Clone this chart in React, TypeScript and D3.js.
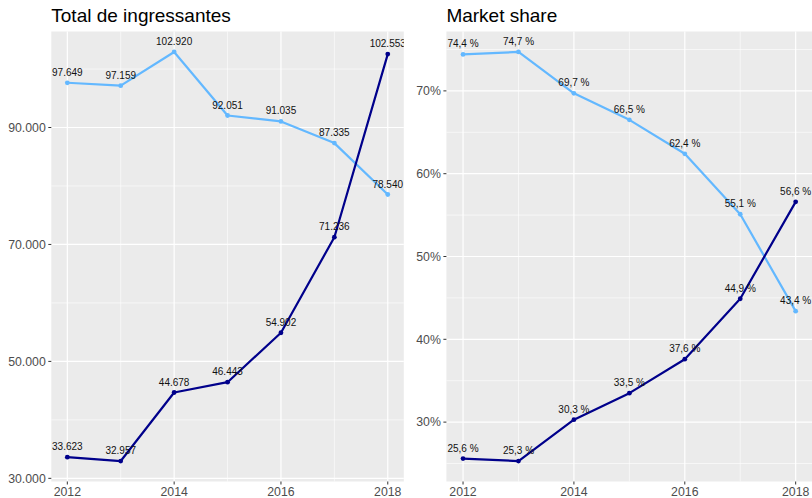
import React from "react";
import * as d3 from "d3";

const years = [2012, 2013, 2014, 2015, 2016, 2017, 2018];
const totalLight = [97649, 97159, 102920, 92051, 91035, 87335, 78540];
const totalDark = [33623, 32957, 44678, 46443, 54902, 71236, 102553];
const shareLight = [74.4, 74.7, 69.7, 66.5, 62.4, 55.1, 43.4];
const shareDark = [25.6, 25.3, 30.3, 33.5, 37.6, 44.9, 56.6];
const xTicks = [2012, 2014, 2016, 2018];
const xMinor = [2013, 2015, 2017];
const leftTicks = [30000, 50000, 70000, 90000];
const leftMinor = [40000, 60000, 80000, 100000];
const rightTicks = [30, 40, 50, 60, 70];
const rightMinor = [25, 35, 45, 55, 65, 75];

const LIGHT = "#63B8FF";
const DARK = "#00008B";
const FONT = "'Liberation Sans', Arial, Helvetica, sans-serif";

const fmtInt = (v: number) => d3.format(",d")(v).replace(/,/g, ".");
const fmtPct = (v: number) => v.toFixed(1).replace(".", ",") + " %";

function expand(vals: number[]): [number, number] {
  const [a, b] = d3.extent(vals) as [number, number];
  const p = (b - a) * 0.05;
  return [a - p, b + p];
}

type PanelProps = {
  id: string;
  title: string;
  x0: number;
  x1: number;
  top: number;
  bottom: number;
  light: number[];
  dark: number[];
  ticks: number[];
  minor: number[];
  tickFmt: (v: number) => string;
  labelFmt: (v: number) => string;
};

function Panel(p: PanelProps) {
  const xs = d3.scaleLinear().domain(expand(years)).range([p.x0, p.x1]);
  const ys = d3.scaleLinear().domain(expand([...p.light, ...p.dark])).range([p.bottom, p.top]);
  const line = d3
    .line<number>()
    .x((_, i) => xs(years[i]))
    .y((d) => ys(d));
  const series = [
    { vals: p.light, color: LIGHT },
    { vals: p.dark, color: DARK },
  ];
  return (
    <g>
      <defs>
        <clipPath id={p.id}>
          <rect x={p.x0} y={p.top} width={p.x1 - p.x0} height={p.bottom - p.top} />
        </clipPath>
      </defs>
      <text x={p.x0} y={21.5} fontSize={19} fill="#000" fontFamily={FONT}>
        {p.title}
      </text>
      <rect x={p.x0} y={p.top} width={p.x1 - p.x0} height={p.bottom - p.top} fill="#EBEBEB" />
      {p.minor.map((t) => (
        <line key={"hm" + t} x1={p.x0} x2={p.x1} y1={ys(t)} y2={ys(t)} stroke="#fff" strokeWidth={0.6} />
      ))}
      {xMinor.map((t) => (
        <line key={"vm" + t} x1={xs(t)} x2={xs(t)} y1={p.top} y2={p.bottom} stroke="#fff" strokeWidth={0.6} />
      ))}
      {p.ticks.map((t) => (
        <line key={"h" + t} x1={p.x0} x2={p.x1} y1={ys(t)} y2={ys(t)} stroke="#fff" strokeWidth={1.2} />
      ))}
      {xTicks.map((t) => (
        <line key={"v" + t} x1={xs(t)} x2={xs(t)} y1={p.top} y2={p.bottom} stroke="#fff" strokeWidth={1.2} />
      ))}
      <g clipPath={`url(#${p.id})`}>
        {series.map((s, si) => (
          <g key={si}>
            <path d={line(s.vals) || ""} fill="none" stroke={s.color} strokeWidth={2.2} strokeLinejoin="round" />
            {s.vals.map((v, i) => (
              <circle key={i} cx={xs(years[i])} cy={ys(v)} r={2.4} fill={s.color} />
            ))}
          </g>
        ))}
        {series.map((s, si) =>
          s.vals.map((v, i) => (
            <text
              key={si + "-" + i}
              x={xs(years[i])}
              y={ys(v) - 7}
              textAnchor="middle"
              fontSize={10}
              fill="#111"
              fontFamily={FONT}
            >
              {p.labelFmt(v)}
            </text>
          ))
        )}
      </g>
      {p.ticks.map((t) => (
        <g key={"yt" + t}>
          <line x1={p.x0 - 3} x2={p.x0} y1={ys(t)} y2={ys(t)} stroke="#333" strokeWidth={1} />
          <text
            x={p.x0 - 5.5}
            y={ys(t)}
            dy="0.35em"
            textAnchor="end"
            fontSize={12.3}
            fill="#4D4D4D"
            fontFamily={FONT}
          >
            {p.tickFmt(t)}
          </text>
        </g>
      ))}
      {xTicks.map((t) => (
        <g key={"xt" + t}>
          <line x1={xs(t)} x2={xs(t)} y1={p.bottom} y2={p.bottom + 3} stroke="#333" strokeWidth={1} />
          <text x={xs(t)} y={496} textAnchor="middle" fontSize={12.3} fill="#4D4D4D" fontFamily={FONT}>
            {t}
          </text>
        </g>
      ))}
    </g>
  );
}

export default function App() {
  return (
    <svg
      width={812}
      height={498}
      style={{ position: "absolute", left: 0, top: 0, display: "block", background: "#fff" }}
    >
      <rect width={812} height={498} fill="#fff" />
      <Panel
        id="clipL"
        title="Total de ingressantes"
        x0={51.3}
        x1={403.8}
        top={31.5}
        bottom={481.5}
        light={totalLight}
        dark={totalDark}
        ticks={leftTicks}
        minor={leftMinor}
        tickFmt={fmtInt}
        labelFmt={fmtInt}
      />
      <Panel
        id="clipR"
        title="Market share"
        x0={446.4}
        x1={812.3}
        top={31.5}
        bottom={481.5}
        light={shareLight}
        dark={shareDark}
        ticks={rightTicks}
        minor={rightMinor}
        tickFmt={(v) => v + "%"}
        labelFmt={fmtPct}
      />
    </svg>
  );
}
